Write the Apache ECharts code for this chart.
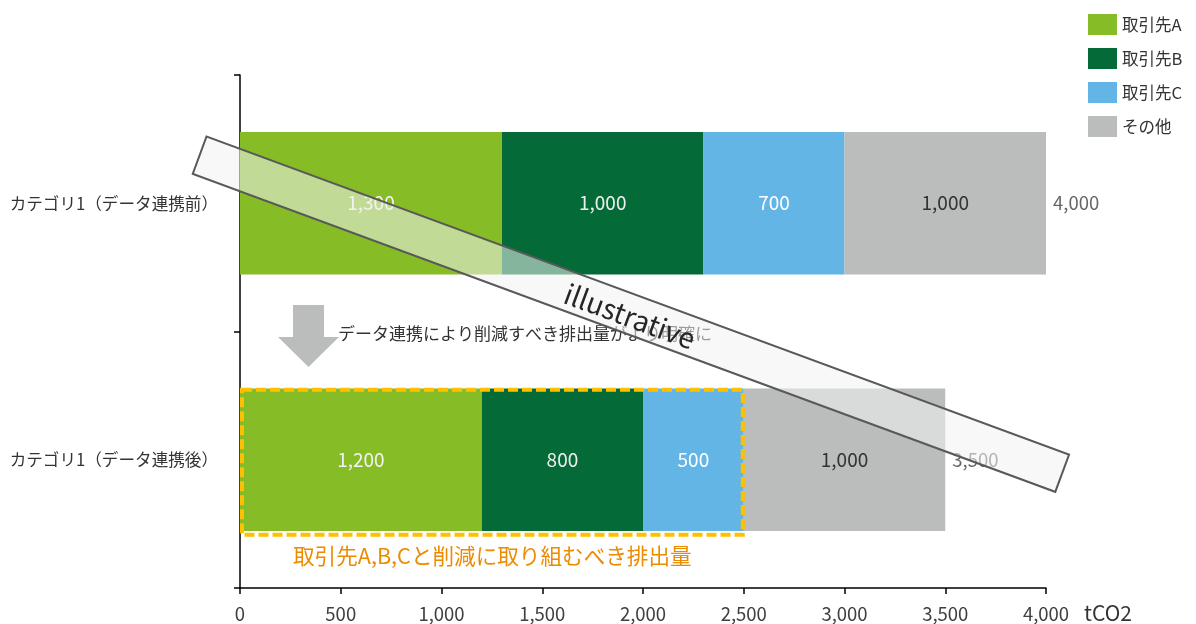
<!DOCTYPE html>
<html>
<head>
<meta charset="utf-8">
<script src="https://cdn.jsdelivr.net/npm/echarts@6/dist/echarts.min.js"></script>
<style>
html,body{margin:0;padding:0;background:#fff;}
#main{width:1196px;height:624px;}
</style>
</head>
<body>
<div id="main"></div>
<script>
const categories = ['カテゴリ1（データ連携前）', 'カテゴリ1（データ連携後）'];
const seriesNames = ['取引先A', '取引先B', '取引先C', 'その他'];
const valuesA = [1300, 1200];
const valuesB = [1000, 800];
const valuesC = [700, 500];
const valuesOther = [1000, 1000];
const totals = [4000, 3500];
const xMin = 0, xMax = 4000, xInterval = 500;
const axisUnit = 'tCO2';
const arrowNote = 'データ連携により削減すべき排出量がより明確に';
const boxNote = '取引先A,B,Cと削減に取り組むべき排出量';
const stampText = 'illustrative';
const boxUpTo = 2500;

const FONT = '"Noto Sans CJK JP", "Noto Sans", sans-serif';
const colors = ['#86bc25', '#046a38', '#62b5e5', '#bbbcbc'];
const labelColors = ['#f2f2f2', '#eeeeee', '#ffffff', '#333333'];
const fmt = v => Number(v).toLocaleString('en-US');

const chart = echarts.init(document.getElementById('main'), null, {renderer: 'canvas'});

const dataSets = [valuesA, valuesB, valuesC, valuesOther];
const barSeries = seriesNames.map((name, i) => ({
  name: name,
  type: 'bar',
  stack: 'total',
  barWidth: '55.6%',
  data: dataSets[i],
  itemStyle: {color: colors[i]},
  label: {
    show: true,
    position: 'inside',
    formatter: p => fmt(p.value),
    color: labelColors[i],
    fontFamily: FONT,
    fontSize: 19
  },
  emphasis: {disabled: true},
  z: 2
}));

const totalSeries = {
  name: 'total',
  type: 'scatter',
  symbolSize: 0,
  data: totals.map((t, i) => [t, categories[i]]),
  label: {
    show: true,
    position: 'right',
    distance: 7,
    formatter: p => fmt(p.value[0]),
    color: '#404040',
    fontFamily: FONT,
    fontSize: 18.5
  },
  z: 2
};

chart.setOption({
  animation: false,
  textStyle: {fontFamily: FONT},
  grid: {left: 240, right: 150, top: 75, bottom: 36, containLabel: false},
  legend: {
    data: seriesNames,
    orient: 'vertical',
    left: 1088,
    top: 14,
    padding: 0,
    itemWidth: 29,
    itemHeight: 21,
    itemGap: 13,
    icon: 'rect',
    textStyle: {fontFamily: FONT, fontSize: 16.5, color: '#333'},
    selectedMode: false
  },
  xAxis: {
    type: 'value',
    min: xMin, max: xMax, interval: xInterval,
    name: axisUnit,
    nameLocation: 'end',
    nameGap: 38,
    nameTextStyle: {fontFamily: FONT, fontSize: 21, color: '#333', verticalAlign: 'top', padding: [15, 0, 0, 0]},
    axisLine: {show: true, lineStyle: {color: '#000', width: 1.5}},
    axisTick: {show: true, length: 6, lineStyle: {color: '#000', width: 1.5}},
    splitLine: {show: false},
    axisLabel: {formatter: v => fmt(v), fontFamily: FONT, fontSize: 18.5, color: '#404040', margin: 17}
  },
  yAxis: {
    type: 'category',
    data: categories,
    inverse: true,
    axisLine: {show: true, lineStyle: {color: '#000', width: 1.5}},
    axisTick: {show: true, length: 6, lineStyle: {color: '#000', width: 1.5}},
    axisLabel: {fontFamily: FONT, fontSize: 16.6, color: '#333', margin: 22}
  },
  series: barSeries.concat([totalSeries])
});

// annotations anchored to the chart's scales
const x0 = chart.convertToPixel({xAxisIndex: 0}, 0);
const xBox = chart.convertToPixel({xAxisIndex: 0}, boxUpTo);
const yAfter = chart.convertToPixel({yAxisIndex: 0}, categories[1]);
const yBoundary = (chart.convertToPixel({yAxisIndex: 0}, categories[0]) + yAfter) / 2;
const barHalf = 71.5;

const deg = 20.24 * Math.PI / 180;
const bandLen = 919.3, bandW = 39.8;
const bandCx = 630.9, bandCy = 314.2;

chart.setOption({
  graphic: [
    {
      type: 'polygon',
      z: 5,
      shape: {points: [[x0 + 53, 305], [x0 + 84, 305], [x0 + 84, 337], [x0 + 99, 337], [x0 + 68.5, 367], [x0 + 38, 337], [x0 + 53, 337]]},
      style: {fill: '#bbbcbc'}
    },
    {
      type: 'text',
      z: 5,
      x: x0 + 98, y: yBoundary + 2,
      style: {text: arrowNote, fill: '#333', font: '17px ' + FONT, textVerticalAlign: 'middle'}
    },
    {
      type: 'rect',
      z: 6,
      shape: {x: x0 + 2, y: yAfter - barHalf + 1.5, width: xBox - x0 - 3, height: barHalf * 2 + 2},
      style: {fill: 'none', stroke: '#ffc000', lineWidth: 4, lineDash: [10, 4]}
    },
    {
      type: 'text',
      z: 6,
      x: x0 + 53, y: yAfter + barHalf + 25,
      style: {text: boxNote, fill: '#ed8b00', font: '21.6px ' + FONT, textVerticalAlign: 'middle'}
    },
    {
      type: 'rect',
      z: 20,
      x: bandCx, y: bandCy,
      rotation: -deg,
      shape: {x: -bandLen / 2, y: -bandW / 2, width: bandLen, height: bandW},
      style: {fill: 'rgba(243,243,243,0.55)', stroke: '#595959', lineWidth: 2}
    },
    {
      type: 'text',
      z: 21,
      x: bandCx - 1, y: bandCy + 2,
      rotation: -deg,
      style: {text: stampText, fill: '#262626', font: '28px ' + FONT, textAlign: 'center', textVerticalAlign: 'middle'}
    }
  ]
});
</script>
</body>
</html>
